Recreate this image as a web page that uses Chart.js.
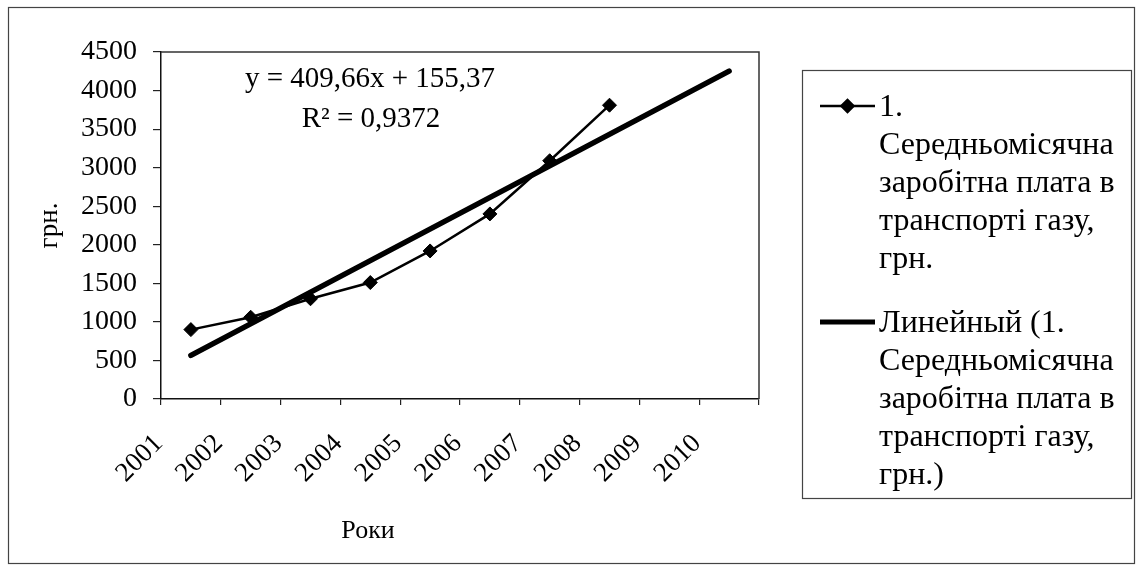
<!DOCTYPE html>
<html lang="uk">
<head>
<meta charset="UTF-8">
<title>Середньомісячна заробітна плата в транспорті газу</title>
<script src="https://cdn.jsdelivr.net/npm/chart.js"></script>
<style>
  html, body { margin: 0; padding: 0; background: #fff; }
  #wrap { width: 1137px; height: 568px; }
</style>
</head>
<body>
<div id="wrap"><canvas id="wageChart" width="1137" height="568"></canvas></div>
<script>
// --- data ---
const years = ['2001', '2002', '2003', '2004', '2005', '2006', '2007', '2008', '2009', '2010'];
const wages = [900, 1060, 1300, 1510, 1920, 2400, 3090, 3810, null, null];

// linear trend as printed on the chart: y = 409,66x + 155,37 (x = 1 for 2001)
const trendSlope = 409.66;
const trendIntercept = 155.37;
const equationText = 'y = 409,66x + 155,37';
const r2Text = 'R² = 0,9372';

const yMin = 0, yMax = 4500, yStep = 500;

const seriesLines = ['1.', 'Середньомісячна', 'заробітна плата в', 'транспорті газу,', 'грн.'];
const trendLines = ['Линейный (1.', 'Середньомісячна', 'заробітна плата в', 'транспорті газу,', 'грн.)'];

// trend drawn only between the first and last year, gaps spanned
const trendValues = years.map((y, i) =>
  (i === 0 || i === years.length - 1) ? trendSlope * (i + 1) + trendIntercept : null);

const serif = "'Liberation Serif', 'Times New Roman', serif";

// frame, equation, axis caption and the boxed legend
const decor = {
  id: 'decor',
  beforeDraw(chart) {
    const ctx = chart.ctx;
    ctx.save();
    ctx.fillStyle = '#fff';
    ctx.fillRect(0, 0, chart.width, chart.height);
    ctx.strokeStyle = '#444';
    ctx.lineWidth = 1.2;
    ctx.strokeRect(8.5, 7.5, 1126, 556);
    ctx.restore();
  },
  afterDraw(chart) {
    const {ctx, chartArea: a} = chart;
    ctx.save();

    // top and right edges of the plot frame
    ctx.strokeStyle = '#333';
    ctx.lineWidth = 1.5;
    ctx.beginPath();
    ctx.moveTo(a.left, a.top);
    ctx.lineTo(a.right, a.top);
    ctx.lineTo(a.right, a.bottom);
    ctx.stroke();

    ctx.fillStyle = '#000';
    ctx.textAlign = 'center';
    ctx.textBaseline = 'middle';
    ctx.font = '29px ' + serif;
    ctx.fillText(equationText, a.left + 209, a.top + 27);
    ctx.fillText(r2Text, a.left + 210, a.top + 67);

    ctx.font = '26px ' + serif;
    ctx.fillText('Роки', a.left + 207, 531);

    // legend box
    const lx = 802, ly = 70, lw = 329, lh = 428;
    ctx.strokeStyle = '#444';
    ctx.lineWidth = 1.2;
    ctx.strokeRect(lx + 0.5, ly + 0.5, lw, lh);

    const symX0 = 820, symX1 = 875, textX = 879, rowGap = 38;
    const drawItem = (lines, y0, thick) => {
      ctx.strokeStyle = '#000';
      ctx.lineWidth = thick ? 5 : 2.5;
      ctx.beginPath();
      ctx.moveTo(symX0, y0);
      ctx.lineTo(symX1, y0);
      ctx.stroke();
      if (!thick) {
        Chart.helpers.drawPoint(ctx, {pointStyle: 'rectRot', radius: 6, borderWidth: 1}, (symX0 + symX1) / 2, y0);
        ctx.fill();
      }
      ctx.fillStyle = '#000';
      ctx.textAlign = 'left';
      ctx.font = '32px ' + serif;
      lines.forEach((t, i) => ctx.fillText(t, textX, y0 + 2 + i * rowGap));
    };
    ctx.fillStyle = '#000';
    drawItem(seriesLines, 106, false);
    drawItem(trendLines, 322, true);

    ctx.restore();
  }
};

new Chart(document.getElementById('wageChart'), {
  type: 'line',
  data: {
    labels: years,
    datasets: [
      {
        label: seriesLines.join(' '),
        data: wages,
        borderColor: '#000',
        borderWidth: 2.5,
        pointStyle: 'rectRot',
        pointRadius: 7,
        pointBackgroundColor: '#000',
        pointBorderColor: '#000',
        pointBorderWidth: 1,
        tension: 0
      },
      {
        label: trendLines.join(' '),
        data: trendValues,
        spanGaps: true,
        borderColor: '#000',
        borderWidth: 5.5,
        borderCapStyle: 'round',
        pointRadius: 0,
        tension: 0
      }
    ]
  },
  options: {
    responsive: false,
    animation: false,
    layout: { padding: { left: 8, top: 52, right: 378, bottom: 10 } },
    plugins: {
      legend: { display: false },
      tooltip: { enabled: false }
    },
    scales: {
      x: {
        offset: true,
        grid: { display: true, drawOnChartArea: false, drawTicks: true, tickLength: 6, color: '#222', lineWidth: 1.2, offset: true },
        border: { display: true, color: '#111', width: 1.5 },
        ticks: {
          color: '#000',
          font: { family: serif, size: 27 },
          autoSkip: false,
          minRotation: 45,
          maxRotation: 45,
          padding: 23,
          labelOffset: -32
        },
        afterFit(s) { s.height = 159; }
      },
      y: {
        min: yMin,
        max: yMax,
        grid: { display: true, drawOnChartArea: false, drawTicks: true, tickLength: 8, color: '#222', lineWidth: 1.2 },
        border: { display: true, color: '#111', width: 1.5 },
        ticks: {
          stepSize: yStep,
          color: '#000',
          padding: 16,
          font: { family: serif, size: 28 },
          callback: v => String(v)
        },
        title: {
          display: true,
          text: 'грн.',
          color: '#000',
          font: { family: serif, size: 27 },
          padding: { top: 26, bottom: 0 }
        },
        afterFit(s) { s.width = 153; }
      }
    }
  },
  plugins: [decor]
});
</script>
</body>
</html>
